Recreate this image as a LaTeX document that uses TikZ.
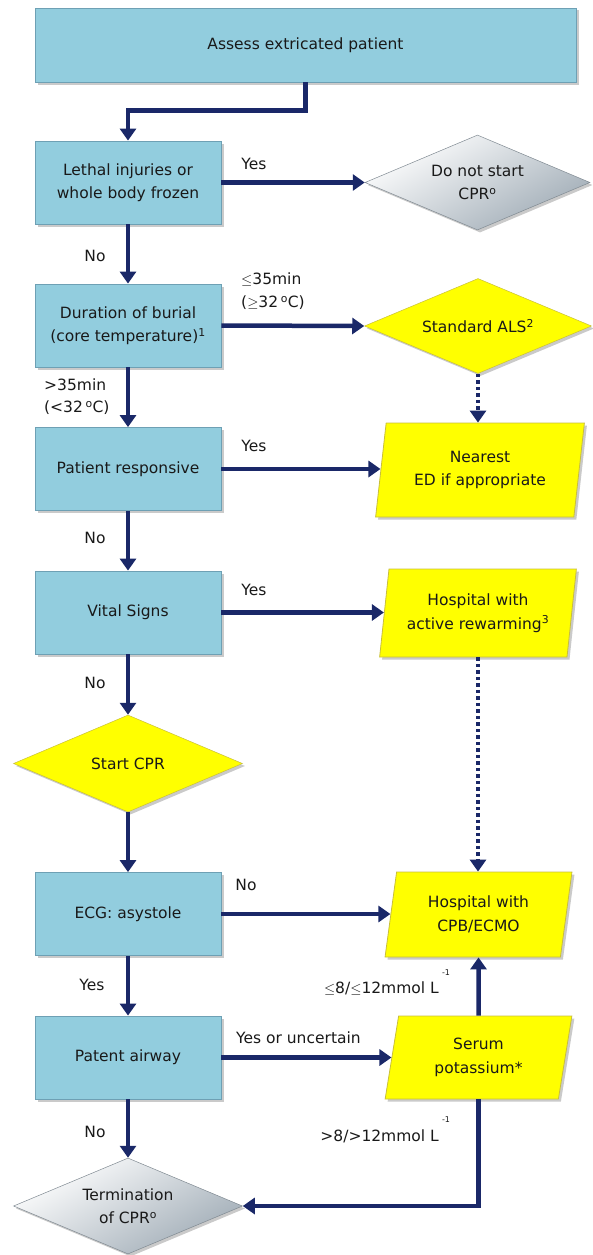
\documentclass[tikz,border=0pt]{standalone}
\usepackage{fontspec}
\setmainfont{DejaVu Sans}
\usetikzlibrary{arrows.meta,shapes.geometric,shadows}
\definecolor{boxblue}{RGB}{146,205,222}
\definecolor{boxedge}{RGB}{110,160,180}
\definecolor{navy}{RGB}{26,40,104}
\definecolor{ylw}{RGB}{255,255,0}
\definecolor{ylwedge}{RGB}{200,190,60}
\definecolor{greyd}{RGB}{160,172,182}
\definecolor{txt}{RGB}{25,25,25}
\tikzset{
  every node/.style={text=txt, font=\fontsize{15.5}{23.5}\selectfont},
  shd/.style={drop shadow={shadow xshift=2.5pt, shadow yshift=-2.5pt, opacity=0.35, fill=black!60}},
  bluebox/.style={rectangle, fill=boxblue, draw=boxedge, line width=0.8pt, shd,
    minimum width=186pt, minimum height=83pt, align=center, inner sep=2pt},
  greydia/.style={diamond, aspect=2.4, draw=greyd!80!black, line width=0.5pt, top color=white, bottom color=greyd,
    shading angle=30, minimum width=225pt, minimum height=95pt, align=center, inner sep=0pt, shd},
  ylwdia/.style={diamond, aspect=2.4, fill=ylw, draw=ylwedge, line width=0.5pt, minimum width=227pt,
    minimum height=95pt, align=center, inner sep=0pt, shd},
  para/.style={trapezium, trapezium left angle=79, trapezium right angle=101, trapezium stretches=true,
    fill=ylw, draw=ylwedge, line width=0.8pt, align=center, inner sep=0pt, shd},
  arr/.style={draw=navy, line width=4.5pt, -{Triangle[width=16pt,length=12pt]}},
  dotarr/.style={draw=navy, line width=4.5pt, dash pattern=on 3.5pt off 3pt, -{Triangle[width=16pt,length=12pt]}},
  lbl/.style={inner sep=0pt, align=left},
}
\begin{document}
\begin{tikzpicture}[x=1pt,y=-1pt]
\useasboundingbox (0,0) rectangle (592,1255);
% nodes
\node[bluebox, minimum width=541pt, minimum height=74pt] (b1) at (305.5,45) {Assess extricated patient};
\node[bluebox] (b2) at (128,182.5) {Lethal injuries or\\whole body frozen};
\node[greydia] (d1) at (477.5,182.5) {Do not start\\CPR\textsuperscript{o}};
\node[bluebox] (b3) at (128,325.5) {Duration of burial\\(core temperature)\textsuperscript{1}};
\node[ylwdia] (d2) at (478,326) {Standard ALS\textsuperscript{2}};
\node[bluebox] (b4) at (128,469) {Patient responsive};
\node[para, minimum width=209pt, minimum height=94pt] (p1) at (480,470) {Nearest\\ED if appropriate};
\node[bluebox] (b5) at (128,612.5) {Vital Signs};
\node[para, minimum width=197pt, minimum height=88pt] (p2) at (478,613) {Hospital with\\active rewarming\textsuperscript{3}};
\node[ylwdia, minimum width=229pt, minimum height=97pt] (d3) at (128,763.5) {Start CPR};
\node[bluebox] (b6) at (128,914) {ECG: asystole};
\node[para, minimum width=187pt, minimum height=85pt] (p3) at (478.5,914.5) {Hospital with\\CPB/ECMO};
\node[bluebox] (b7) at (128,1057.5) {Patent airway};
\node[para, minimum width=187pt, minimum height=83pt] (p4) at (478.5,1057.5) {Serum\\potassium*};
\node[greydia, minimum width=229pt, minimum height=96pt] (d4) at (128,1206) {Termination\\of CPR\textsuperscript{o}};
% connectors
\draw[arr] (b1.south) -- ++(0,28) -| (b2.north);
\draw[arr] (b2.east) -- (d1.west);
\draw[arr] (b2.south) -- (b3.north);
\draw[arr] (b3.east) -- (d2.west);
\draw[arr] (b3.south) -- (b4.north);
\draw[dotarr] (d2.south) -- (d2.south |- p1.north);
\draw[arr] (b4.east) -- (b4.east -| p1.west);
\draw[arr] (b4.south) -- (b5.north);
\draw[arr] (b5.east) -- (b5.east -| p2.west);
\draw[dotarr] (p2.south) -- (p2.south |- p3.north);
\draw[arr] (b5.south) -- (d3.north);
\draw[arr] (d3.south) -- (b6.north);
\draw[arr] (b6.east) -- (b6.east -| p3.west);
\draw[arr] (b6.south) -- (b7.north);
\draw[arr] (b7.east) -- (b7.east -| p4.west);
\draw[arr] (p4.north) -- (p3.south);
\draw[arr] (p4.south) |- (d4.east);
\draw[arr] (b7.south) -- (d4.north);
% labels
\node[lbl] (l1) at (254,164) {Yes};
\node[lbl] (l2) at (95,256) {No};
\node[lbl, anchor=west] (l3) at (241,280) {$\leq$35min};
\node[lbl, anchor=west] (l4) at (241,303) {($\geq$32\,\textsuperscript{o}C)};
\node[lbl, anchor=west] (l5) at (44,385) {>35min};
\node[lbl, anchor=west] (l6) at (44,408) {(<32\,\textsuperscript{o}C)};
\node[lbl] (l7) at (254,446) {Yes};
\node[lbl] (l8) at (95,538) {No};
\node[lbl] (l9) at (254,590) {Yes};
\node[lbl] (l10) at (95,683) {No};
\node[lbl] (l11) at (246,885) {No};
\node[lbl] (l12) at (92,985) {Yes};
\node[lbl, anchor=west] (l13) at (236,1038) {Yes or uncertain};
\node[lbl, anchor=east] (l14) at (439,989) {$\leq$8/$\leq$12mmol L};
\node[lbl, font=\fontsize{8}{9}\selectfont] (l14s) at (446,973) {-1};
\node[lbl, anchor=east] (l15) at (439,1136) {>8/>12mmol L};
\node[lbl, font=\fontsize{8}{9}\selectfont] (l15s) at (446,1120) {-1};
\node[lbl] (l16) at (95,1132) {No};
\end{tikzpicture}
\end{document}
